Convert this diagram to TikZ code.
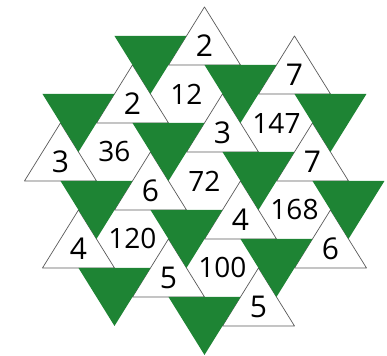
\documentclass[tikz,border=0pt]{standalone}
\usepackage{fontspec}
\setmainfont{Open Sans}
\usetikzlibrary{calc}
\definecolor{leafgreen}{RGB}{30,132,52}
\definecolor{edgegray}{RGB}{90,90,90}
\tikzset{
  blanco/.style={
    draw=edgegray,
    line width=0.7pt,
    fill=white,
    line join=round
  },
  verde/.style={
    fill=leafgreen
  },
  cifra/.style={
    font=\fontsize{30}{30}\selectfont,
    inner sep=0pt
  }
}

\begin{document}
\begin{tikzpicture}[x=18pt, y=-29pt]
\useasboundingbox (-11.36,-0.24) rectangle (10.14,12.03);
% white triangles with the factors
\foreach \i/\j/\n [count=\k] in {0/0/2, 1/0/7, -1/1/2, 0/1/3, 1/1/7, -2/2/3, -1/2/6, 0/2/4, 1/2/6, -2/3/4, -1/3/5, 0/3/5}{
  \coordinate (a\k) at ({5*\i+\j},{\i+3*\j});
  \draw[blanco] (a\k) -- ++(2,2) -- ++(-4,0) -- cycle;
  \node[cifra] (f\k) at ($(a\k)+(0,1.33)$) {\n};
}
% green triangles
\foreach \i/\j in {-1/0, 0/0, 1/0, -2/1, -1/1, 0/1, 1/1, -2/2, -1/2, 0/2, -2/3, -1/3}{
  \fill[verde] ({5*\i+\j},{\i+3*\j+2}) -- ++(4,0) -- ++(-2,2) -- cycle;
}
% products in the hexagons
\foreach \i/\j/\n [count=\k] in {0/0/12, 1/0/147, -1/1/36, 0/1/72, 1/1/168, -1/2/120, 0/2/100}{
  \node[cifra, font=\fontsize{28}{28}\selectfont] (prod\k) at ({5*\i+\j-1},{\i+3*\j+3}) {\n};
}
\end{tikzpicture}
\end{document}
